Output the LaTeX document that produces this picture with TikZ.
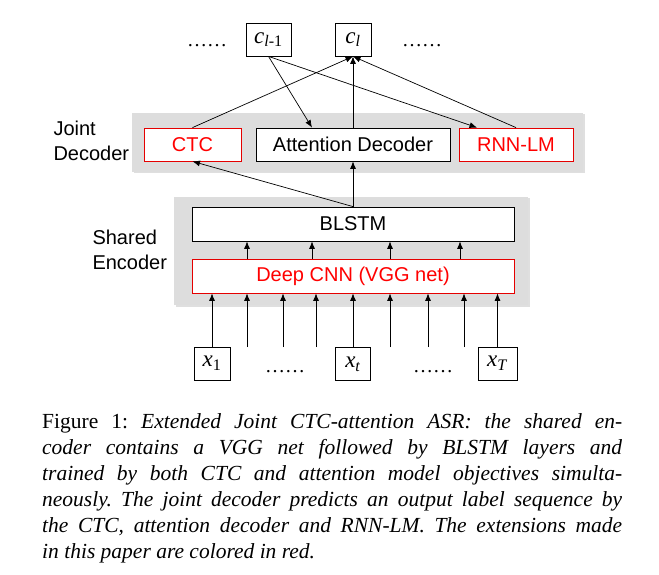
\documentclass[tikz,border=0pt]{standalone}
\usepackage{fontspec}
\setmainfont{Liberation Serif}
\setsansfont{Liberation Sans}
\usetikzlibrary{calc}
\usetikzlibrary{arrows.meta, positioning, shadows}

\newcommand{\seqsym}[2]{\textit{#1}\textsubscript{#2}}

\begin{document}
\frenchspacing
\begin{tikzpicture}[x=1pt, y=-1pt, font=\sffamily\fontsize{20}{25}\selectfont,
    panel/.style={fill=gray!27, drop shadow={shadow xshift=1.5pt, shadow yshift=-1.5pt, opacity=0.25}},
    blk/.style={draw, line width=0.8pt, fill=white, inner sep=0pt, minimum height=33pt},
    redblk/.style={blk, draw=red!90!black, text=red},
    symbox/.style={blk, font=\rmfamily\fontsize{23}{25}\selectfont},
    dots/.style={anchor=base, font=\rmfamily\fontsize{20}{25}\selectfont},
    arr/.style={-{Latex[length=7.5pt, width=6pt]}, line width=0.7pt}]
    \useasboundingbox (0,0) rectangle (659,575);

    % 输出序列
    \node[symbox, minimum width=45pt] (prev) at (268.5,39.5) {\seqsym{c}{\textit{l}-1}};
    \node[symbox, minimum width=36pt] (cur) at (353,39.5) {\seqsym{c}{\textit{l}}};
    \node[dots] (dotsL) at (207,47) {\textellipsis\textellipsis};
    \node[dots] (dotsR) at (422,47) {\textellipsis\textellipsis};

    % 联合解码器
    \path[panel] (132,113) rectangle (583,172);
    \node[anchor=west, align=left] (declabel) at (50,141) {Joint\\Decoder};
    \node[redblk, minimum width=97pt] (ctc) at (192.5,144.5) {CTC};
    \node[blk, minimum width=194pt] (att) at (353,144.5) {Attention Decoder};
    \node[redblk, minimum width=114pt] (rnn) at (516,144.5) {RNN-LM};

    % 共享编码器
    \path[panel] (174,197) rectangle (528,305);
    \node[anchor=west, align=left] (enclabel) at (89,250) {Shared\\Encoder};
    \node[blk, minimum width=322pt, minimum height=34pt] (blstm) at (353,224) {BLSTM};
    \node[redblk, minimum width=322pt, minimum height=34pt] (cnn) at (353,276) {Deep CNN (VGG net)};

    % 输入序列
    \node[symbox, minimum width=36pt] (x1) at (212,363.5) {\seqsym{x}{1}};
    \node[symbox, minimum width=35pt] (xt) at (353,364) {\seqsym{x}{\textit{t}}};
    \node[symbox, minimum width=39pt] (xT) at (497.5,363.5) {\seqsym{x}{\textit{T}}};
    \node[dots] (dotsA) at (285,372) {\textellipsis\textellipsis};
    \node[dots] (dotsB) at (433,372) {\textellipsis\textellipsis};

    % 输入箭头
    \foreach \b in {x1, xt, xT} {
        \draw[arr] (\b.north) -- (\b.north |- cnn.south);
    }
    \foreach \x [count=\i] in {247, 283, 316, 390, 428, 464} {
        \coordinate (in\i) at (\x,347);
        \draw[arr] (in\i) -- (in\i |- cnn.south);
    }

    % CNN 到 BLSTM
    \foreach \x in {247, 312, 390, 460} {
        \draw[arr] (cnn.north -| \x,0) -- (blstm.south -| \x,0);
    }

    % 编码器到解码器
    \draw[arr] (blstm.north) -- (ctc.south);
    \draw[arr] (blstm.north) -- (att.south);

    % 解码器到输出
    \draw[arr] (ctc.north) -- (cur.south);
    \draw[arr] (att.north) -- (cur.south);
    \draw[arr] (rnn.north) -- (cur.south);
    \draw[arr] (prev.south) -- ($(att.north)+(-41,0)$);
    \draw[arr] (prev.south) -- ($(rnn.north)+(-39,0)$);

    % 图注
    \node[anchor=north west, inner sep=0pt, text width=580pt, align=justify,
          font=\rmfamily\fontsize{21.5}{26}\selectfont] (caption) at (42,413)
        {Figure 1:\ \textit{Extended Joint CTC-attention ASR: the shared en-\linebreak
         coder contains a VGG net followed by BLSTM layers and\linebreak
         trained by both CTC and attention model objectives simulta-\linebreak
         neously. The joint decoder predicts an output label sequence by\linebreak
         the CTC, attention decoder and RNN-LM. The extensions made\linebreak
         in this paper are colored in red.}};
\end{tikzpicture}
\end{document}
